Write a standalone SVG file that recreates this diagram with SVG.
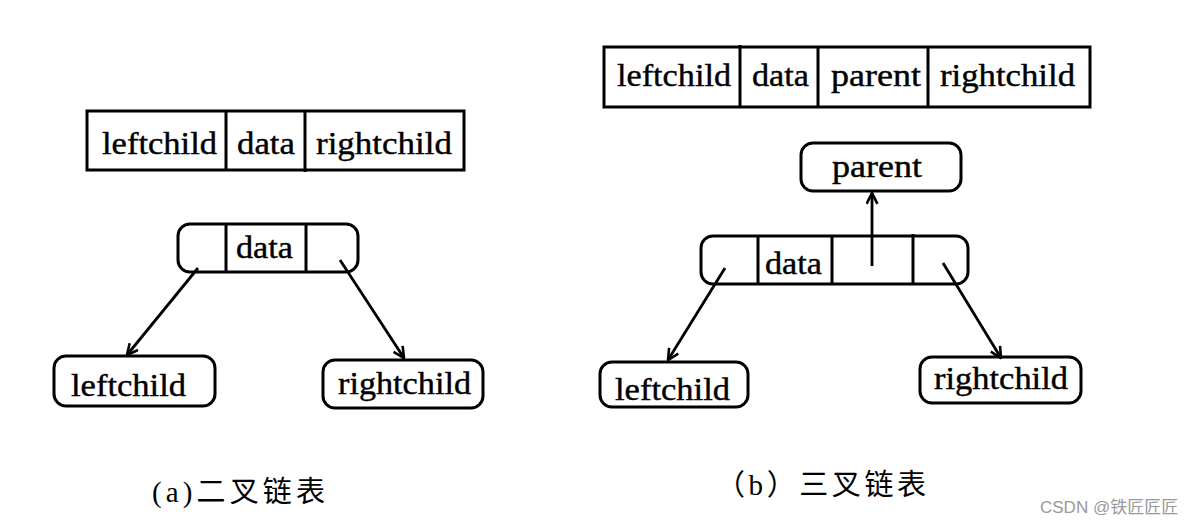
<svg xmlns="http://www.w3.org/2000/svg" width="1202" height="529" viewBox="0 0 1202 529">
<style>
.box{fill:none;stroke:#000;stroke-width:3}
.ln{stroke:#000;stroke-width:3;fill:none}
.t{font-family:"Liberation Serif",serif;font-size:31px;fill:#000;stroke:#000;stroke-width:0.4}
.cap{font-family:"Liberation Serif","Noto Sans CJK SC",serif;font-size:29px;fill:#000}
.wm{font-family:"Liberation Sans","Noto Sans CJK SC",sans-serif;font-size:17px;fill:#999}
.arr{stroke:#000;stroke-width:2.8;fill:none;marker-end:url(#ah)}
</style>
<defs>
<marker id="ah" viewBox="0 0 12 12" refX="11" refY="6" markerWidth="13" markerHeight="13" markerUnits="userSpaceOnUse" orient="auto">
<path d="M1,1 L11,6 L1,11" fill="none" stroke="#000" stroke-width="2.4"/>
</marker>
</defs>
<rect width="1202" height="529" fill="#fff"/>

<g id="tableA">
<rect class="box" x="87" y="111" width="377" height="59"/>
<line class="ln" x1="226" y1="111" x2="226" y2="170"/>
<line class="ln" x1="305" y1="111" x2="305" y2="172"/>
<text class="t" x="102" y="154" textLength="115" lengthAdjust="spacingAndGlyphs">leftchild</text>
<text class="t" x="237" y="154" textLength="58" lengthAdjust="spacingAndGlyphs">data</text>
<text class="t" x="316" y="154" textLength="136" lengthAdjust="spacingAndGlyphs">rightchild</text>
</g>

<g id="nodeA-data">
<rect class="box" x="178" y="224" width="180" height="48" rx="12"/>
<line class="ln" x1="226" y1="224" x2="226" y2="272"/>
<line class="ln" x1="306" y1="224" x2="306" y2="272"/>
<text class="t" x="236" y="258" textLength="57" lengthAdjust="spacingAndGlyphs">data</text>
</g>

<g id="nodeA-left">
<rect class="box" x="54" y="356" width="161" height="50" rx="12"/>
<text class="t" x="71" y="396" textLength="115" lengthAdjust="spacingAndGlyphs">leftchild</text>
</g>

<g id="nodeA-right">
<rect class="box" x="323" y="360" width="160" height="48" rx="12"/>
<text class="t" x="338" y="394" textLength="133" lengthAdjust="spacingAndGlyphs">rightchild</text>
</g>

<g id="tableB">
<rect class="box" x="604" y="47" width="486" height="60"/>
<line class="ln" x1="740" y1="45" x2="740" y2="107"/>
<line class="ln" x1="818" y1="47" x2="818" y2="107"/>
<line class="ln" x1="928" y1="47" x2="928" y2="107"/>
<text class="t" x="617" y="86" textLength="114" lengthAdjust="spacingAndGlyphs">leftchild</text>
<text class="t" x="752" y="86" textLength="57" lengthAdjust="spacingAndGlyphs">data</text>
<text class="t" x="831" y="86" textLength="90" lengthAdjust="spacingAndGlyphs">parent</text>
<text class="t" x="940" y="86" textLength="135" lengthAdjust="spacingAndGlyphs">rightchild</text>
</g>

<g id="nodeB-parent">
<rect class="box" x="801" y="143" width="160" height="48" rx="12"/>
<text class="t" x="832" y="177" textLength="90" lengthAdjust="spacingAndGlyphs">parent</text>
</g>

<g id="nodeB-data">
<rect class="box" x="701" y="236" width="267" height="48" rx="12"/>
<line class="ln" x1="758" y1="236" x2="758" y2="284"/>
<line class="ln" x1="832" y1="236" x2="832" y2="284"/>
<line class="ln" x1="913" y1="234" x2="913" y2="284"/>
<text class="t" x="765" y="274" textLength="57" lengthAdjust="spacingAndGlyphs">data</text>
</g>

<g id="nodeB-left">
<rect class="box" x="600" y="362" width="148" height="45" rx="12"/>
<text class="t" x="615" y="400" textLength="115" lengthAdjust="spacingAndGlyphs">leftchild</text>
</g>

<g id="nodeB-right">
<rect class="box" x="920" y="357" width="161" height="46" rx="12"/>
<text class="t" x="934" y="389" textLength="134" lengthAdjust="spacingAndGlyphs">rightchild</text>
</g>

<g id="connectors">
<line class="arr" x1="198" y1="268" x2="127" y2="355"/>
<line class="arr" x1="340" y1="260" x2="404" y2="358"/>
<line class="arr" x1="872" y1="266" x2="872" y2="193"/>
<line class="arr" x1="725" y1="268" x2="668" y2="360"/>
<line class="arr" x1="943" y1="263" x2="1001" y2="358"/>
</g>

<g id="captions">
<text class="cap" x="152" y="502" textLength="173" lengthAdjust="spacing">(a)二叉链表</text>
<text class="cap" x="716" y="495" textLength="210" lengthAdjust="spacing">（b）三叉链表</text>
<text class="wm" x="1040" y="513">CSDN @铁匠匠匠</text>
</g>
</svg>
